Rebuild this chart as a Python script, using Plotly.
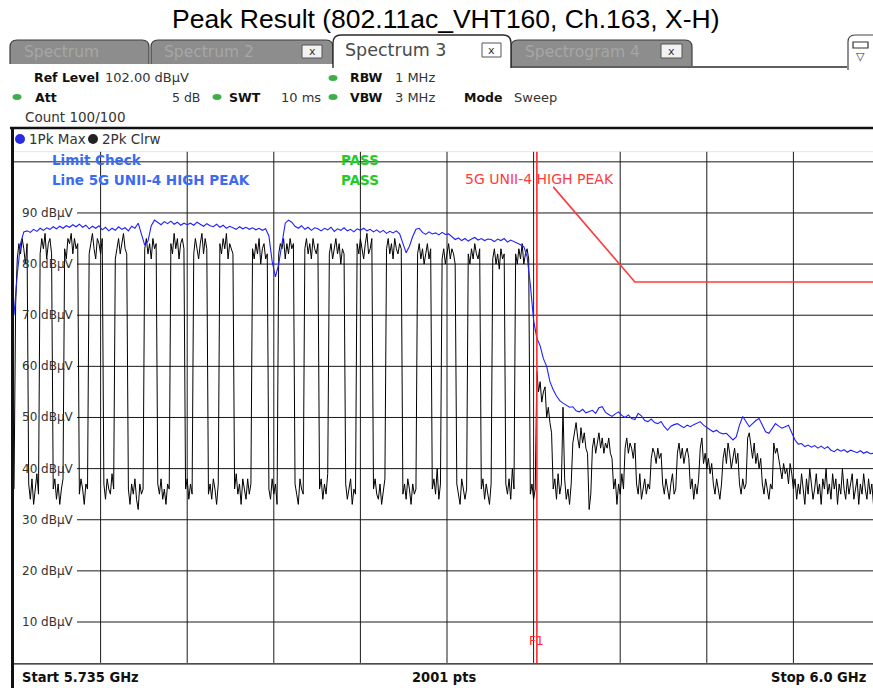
import numpy as np
import plotly.graph_objects as go

W, H = 873, 688

# ---- sweep settings -------------------------------------------------------
F_START, F_STOP = 5.735, 6.0
REF_LEVEL = 102.0
DB_PER_DIV = 10
N_DIV = 10

# Trace 2: Pk Clear/Write, 0.5 MHz spacing (dBuV)
clrw_db = [
    36, 72,
    81, 84, 82, 85, 83, 80, 84,
    37, 34, 38, 33, 36, 39, 35,
    82, 85, 83, 86, 81, 84, 85, 82,
    36, 38, 34, 37, 33, 36, 38,
    83, 81, 85, 84, 86, 82, 85, 83, 84,
    35, 38, 36, 33, 37, 36,
    82, 84, 86, 83, 81, 85, 84, 82, 85,
    37, 34, 38, 36, 35, 39, 36,
    81, 83, 85, 82, 84, 86, 83, 82,
    36, 33, 37, 35, 38, 34, 32, 37, 35, 36,
    83, 85, 82, 84, 81, 85, 83, 84,
    37, 35, 38, 34, 36, 33, 37, 36,
    84, 82, 86, 83, 85, 81, 84, 85, 83,
    36, 38, 34, 37, 35,
    82, 85, 83, 81, 84, 86, 82, 85, 83,
    35, 37, 34, 38, 36, 33, 37,
    84, 82, 85, 83, 86, 81, 84, 83, 82,
    36, 39, 35, 37, 33, 38, 36, 34, 38, 35, 37,
    83, 81, 84, 82, 85, 80, 83, 84, 81, 82,
    36, 34, 38, 35, 37, 33,
    82, 84, 83, 85, 81, 84, 82, 85, 83, 84,
    37, 35, 33, 38, 36, 35,
    83, 85, 82, 84, 81, 85, 83, 82, 84,
    36, 38, 34, 37, 35, 39,
    82, 84, 81, 83, 85, 82, 84, 80, 83, 82,
    37, 34, 36, 38, 33, 36, 35,
    84, 82, 85, 83, 81, 84, 86, 82, 83, 85,
    36, 38, 35, 34, 37, 33, 36, 38,
    83, 85, 82, 84, 81, 85, 83, 82, 84, 83,
    35, 37, 34, 38, 36, 33, 37, 35, 36,
    82, 84, 81, 83, 80, 82, 84, 81, 83,
    36, 38, 35, 40, 34, 37,
    81, 83, 80, 82, 84, 81, 83, 82, 80,
    37, 35, 33, 38, 36, 34, 36,
    82, 80, 83, 81, 84, 82, 81, 83,
    36, 38, 34, 37, 35, 33, 37,
    81, 83, 80, 82, 79, 83, 81, 82,
    37, 35, 38, 34, 40, 36,
    82, 80, 83, 81, 84, 80, 82, 83, 81,
    35, 37, 34, 36,
    59, 55, 57, 53, 55, 56, 50, 52, 49, 47,
    36, 38, 34, 39, 35, 37, 52, 38, 34, 36, 33, 37,
    45, 47, 49, 46, 44, 48, 45, 47, 44, 43,
    32, 35,
    44, 46, 43, 45, 47, 44, 46, 43, 45, 44, 46, 43, 42,
    36, 38, 33, 37, 35, 39, 36,
    44, 46, 43, 45, 44, 42, 45,
    37, 35, 39, 34, 36, 38, 35, 37, 36,
    42, 44, 43, 41, 44, 42, 43,
    37, 35, 38, 36, 34, 37, 39, 35, 36,
    43, 45, 42, 44, 41, 43, 44, 42,
    36, 38, 34, 37, 35, 38,
    44, 46, 41, 43, 40, 42, 39, 41,
    37, 35, 38, 36, 34, 37,
    42, 44, 41, 45, 43, 40, 42, 44, 41, 43,
    37, 35, 38, 36, 37,
    46, 47, 44, 42, 45, 41, 43, 40, 42,
    37, 35, 38, 36, 34, 37, 36,
    45, 43, 44, 42,
    40, 38, 41, 39, 40, 37, 41, 39,
    36, 38, 34, 37, 35, 39, 36, 33, 38, 35, 40, 37, 34, 36, 39, 35, 37, 33,
    38, 36, 40, 35, 37, 34, 39, 36, 38, 33, 37, 35, 40, 36, 34, 38, 35, 37,
    39, 34, 36, 38, 33, 37, 35, 39, 36, 34, 38, 35, 37, 33, 36, 39, 35, 37,
]

# Trace 1: Pk Max hold, 1 MHz spacing (dBuV)
maxhold_db = [
    70, 78, 84, 86.3,
    86.5, 86.2, 86.8, 86.4, 87.0, 86.6, 87.1, 86.8, 87.3, 86.9, 87.4, 87.0, 87.5, 87.2, 87.7, 87.3,
    87.8, 87.2, 87.6, 86.9, 87.4, 87.0, 87.5, 86.7, 87.2, 86.5, 87.0, 86.6, 87.3, 86.8, 87.1, 86.5, 87.4, 87.0,
    88.0, 86.0, 83.7, 84.5, 87.5, 88.6,
    88.1, 87.7, 88.3, 87.9, 88.4, 87.8, 88.2, 87.6, 88.0, 87.7,
    88.0, 87.6, 88.2, 87.8, 87.4, 87.9, 87.5, 87.3, 87.8, 87.2, 87.6, 87.0,
    87.4, 87.1, 86.8, 87.3, 86.9, 87.2, 86.8, 87.1, 86.7, 87.0, 86.6, 86.9,
    85.5, 80.5, 77.5, 80.0, 84.5, 88.0, 88.6, 88.2,
    87.4, 87.0, 87.5, 86.8, 87.2, 86.6, 87.1, 86.9, 86.5, 87.0, 86.7,
    87.2, 86.4, 86.9, 86.6, 87.1, 86.5, 86.8, 86.3, 86.9, 86.6,
    87.0, 86.5, 86.8, 86.3, 86.7, 86.2, 86.6, 86.0, 86.4, 86.1, 86.5, 85.9,
    84.0, 82.2, 83.5, 85.4, 86.8, 87.0,
    86.2, 85.8, 86.3, 85.9, 86.1, 85.7, 86.2, 85.8,
    85.9,
    85.3, 84.8, 85.1, 84.6, 85.0, 84.5, 84.9, 85.2, 84.7, 85.0, 84.6, 84.9,
    84.8, 84.4, 84.9, 84.6, 85.0, 84.3, 84.7, 84.4, 84.2,
    83.8, 83.4, 81.5,
    76.0, 69.0, 65.5, 64.0, 61.5, 60.0, 57.0, 55.4, 54.2, 53.3,
    52.8, 52.4, 52.0, 52.1, 51.3, 51.1, 51.6, 50.9, 51.1, 51.4,
    50.8, 51.9, 52.1, 51.0, 50.6, 50.2, 50.7, 51.1, 50.4, 50.0,
    50.5, 49.8, 49.6, 50.8, 50.3, 49.4, 49.2, 49.7, 49.0, 48.8,
    49.2, 48.2, 47.5, 48.3, 48.6, 48.8, 48.4, 48.0, 48.5, 48.2,
    48.6, 48.9, 49.2, 48.5, 48.0, 47.6, 47.2, 47.5, 47.0, 46.8,
    46.9, 46.3, 45.6, 46.2, 48.5, 50.2, 49.3, 48.2, 48.8, 49.4,
    49.8, 48.5, 47.2, 46.9, 47.8, 48.8, 48.3, 47.9, 48.2, 48.5,
    47.0, 45.6, 44.8, 44.9, 44.3, 44.6, 44.2, 44.5, 44.0, 44.4,
    43.9, 44.3, 43.6, 43.3, 43.8, 43.4, 43.7, 43.2, 43.6, 43.4,
    43.1, 43.5, 43.0, 43.3, 42.9, 43.0, 43.2, 43.0,
]

# Limit line "5G UNII-4 HIGH PEAK"
limit_freq = [5.900, 5.925, 6.000]
limit_db = [95.1, 76.5, 76.5]

# Frequency line F1
f1_freq = 5.895

level_labels = [90, 80, 70, 60, 50, 40, 30, 20, 10]

# ---- pixel geometry of the screen ----------------------------------------
GRID_L, GRID_DIV_PX = 14.0, 86.6
GRID_TOP, GRID_BOT = 151.6, 662.9
X_VIS_END = F_START + (W - GRID_L) / (GRID_DIV_PX * N_DIV) * (F_STOP - F_START)
Y_BOTTOM = REF_LEVEL - DB_PER_DIV * N_DIV

UI_FONT = "DejaVu Sans"


def px(x):
    return x / W


def py(y):
    return 1 - y / H


def rect(x0, y0, x1, y1, fill, line=None, lw=0):
    return dict(type="rect", xref="paper", yref="paper",
                x0=px(x0), x1=px(x1), y0=py(y1), y1=py(y0),
                fillcolor=fill, line=dict(color=line or fill, width=lw),
                layer="above")


def tab(x0, y0, x1, y1, r, fill, line, lw=1.2):
    p = (f"M {px(x0)},{py(y1)} L {px(x0)},{py(y0 + r)} "
         f"Q {px(x0)},{py(y0)} {px(x0 + r)},{py(y0)} "
         f"L {px(x1 - r)},{py(y0)} Q {px(x1)},{py(y0)} {px(x1)},{py(y0 + r)} "
         f"L {px(x1)},{py(y1)}")
    return dict(type="path", xref="paper", yref="paper", path=p,
                fillcolor=fill, line=dict(color=line, width=lw), layer="above")


def hline(x0, x1, y, color, w=1):
    return dict(type="line", xref="paper", yref="paper",
                x0=px(x0), x1=px(x1), y0=py(y), y1=py(y),
                line=dict(color=color, width=w), layer="above")


def vline(x, y0, y1, color, w=1):
    return dict(type="line", xref="paper", yref="paper",
                x0=px(x), x1=px(x), y0=py(y0), y1=py(y1),
                line=dict(color=color, width=w), layer="above")


def dot(x, y, rx, ry, color):
    return dict(type="circle", xref="paper", yref="paper",
                x0=px(x - rx), x1=px(x + rx), y0=py(y + ry), y1=py(y - ry),
                fillcolor=color, line=dict(color=color, width=0), layer="above")


def text(x, y, s, size=13, color="#222", bold=False, anchor="left",
         family=UI_FONT):
    return dict(x=px(x), y=py(y), xref="paper", yref="paper", text=s,
                showarrow=False, xanchor=anchor, yanchor="middle",
                font=dict(family=family, size=size, color=color,
                          weight="bold" if bold else "normal"))


fig = go.Figure()

clrw_f = np.linspace(F_START, F_STOP, len(clrw_db))
maxhold_f = np.linspace(F_START, F_STOP, len(maxhold_db))

fig.add_trace(go.Scatter(x=limit_freq, y=limit_db, mode="lines",
                         line=dict(color="#ff3b3b", width=1.6),
                         hoverinfo="skip", showlegend=False))
fig.add_trace(go.Scatter(x=clrw_f, y=clrw_db, mode="lines",
                         line=dict(color="#000000", width=1),
                         name="2Pk Clrw", showlegend=False))
fig.add_trace(go.Scatter(x=maxhold_f, y=maxhold_db, mode="lines",
                         line=dict(color="#1f1fff", width=1.1),
                         name="1Pk Max", showlegend=False))

shapes = []
annotations = []

# grid: vertical divisions
div_w = (F_STOP - F_START) / N_DIV
for k in range(1, N_DIV):
    shapes.append(dict(type="line", xref="x", yref="y",
                       x0=F_START + k * div_w, x1=F_START + k * div_w,
                       y0=Y_BOTTOM, y1=REF_LEVEL,
                       line=dict(color="#1a1a1a", width=1), layer="below"))
# grid: horizontal levels, labelled ones start after their label
for lev in [100] + level_labels:
    x0 = px(GRID_L) if lev == 100 else px(77)
    shapes.append(dict(type="line", xref="paper", yref="y",
                       x0=x0, x1=1, y0=lev, y1=lev,
                       line=dict(color="#1a1a1a", width=1), layer="below"))
shapes.append(dict(type="line", xref="paper", yref="y", x0=px(GRID_L), x1=1,
                   y0=REF_LEVEL, y1=REF_LEVEL,
                   line=dict(color="#d0d0d0", width=1), layer="below"))
for lev in level_labels:
    annotations.append(dict(x=px(20), y=lev, xref="paper", yref="y",
                            text=f"{lev} dBµV", showarrow=False,
                            xanchor="left", yanchor="middle",
                            font=dict(family=UI_FONT, size=12, color="#333")))

# F1 frequency line
shapes.append(dict(type="line", xref="x", yref="y", x0=f1_freq, x1=f1_freq,
                   y0=Y_BOTTOM, y1=REF_LEVEL,
                   line=dict(color="#ff2a2a", width=1.6), layer="above"))
annotations.append(dict(x=f1_freq, y=py(641), xref="x", yref="paper",
                        text="F1", showarrow=False, xanchor="center",
                        yanchor="middle",
                        font=dict(family=UI_FONT, size=12, color="#ff2a2a")))

# ---- analyzer window chrome ----------------------------------------------
# tab strip
shapes += [
    tab(10, 40, 149, 64, 7, "#8d8d8d", "#3e3e3e"),
    tab(151, 40, 333, 64, 7, "#8d8d8d", "#3e3e3e"),
    tab(511, 40, 692, 66, 7, "#8d8d8d", "#3e3e3e"),
    hline(333, 847, 67, "#2a2a2a", 1.5),
    tab(333, 35, 511, 68, 8, "#ffffff", "#2a2a2a", 1.4),
    rect(302, 45, 322, 58, "#f2f2f2", "#555", 1),
    rect(482, 43, 501, 57, "#ffffff", "#555", 1),
    rect(661, 44, 682, 58, "#f2f2f2", "#555", 1),
    tab(848, 35, 880, 70, 7, "#ffffff", "#444", 1.2),
    rect(853, 42, 868, 48, "#ffffff", "#333", 1.2),
]
annotations += [
    text(22, 52, "Spectrum", 15.5, "#a6a6a6"),
    text(162, 52, "Spectrum 2", 15.5, "#a6a6a6"),
    text(523, 52, "Spectrogram 4", 15.5, "#a6a6a6"),
    text(312, 51, "x", 11, "#333", anchor="center"),
    text(491.5, 50, "x", 11, "#333", anchor="center"),
    text(671.5, 51, "x", 11, "#333", anchor="center"),
    text(343, 50, "Spectrum 3", 17.5, "#4a4a4a"),
    text(860.5, 56, "▽", 11, "#333", anchor="center"),
]

# settings panel
green = "#3fae49"
REG = 13
BLD = 12.5
shapes += [dot(17, 97, 4.5, 3, green), dot(217, 97, 4.5, 3, green),
           dot(333, 78, 4.5, 3, green), dot(333, 97, 4.5, 3, green)]
annotations += [
    text(32, 78, "Ref Level", BLD, "#111", True),
    text(103, 78, "102.00 dBµV", REG, "#333"),
    text(348, 78, "RBW", BLD, "#111", True),
    text(393, 78, "1 MHz", REG, "#333"),
    text(33, 97, "Att", BLD, "#111", True),
    text(170, 97, "5 dB", 12.5, "#333"),
    text(227, 97, "SWT", BLD, "#111", True),
    text(279, 97, "10 ms", REG, "#333"),
    text(348, 97, "VBW", BLD, "#111", True),
    text(393, 97, "3 MHz", REG, "#333"),
    text(462, 97, "Mode", BLD, "#111", True),
    text(512, 97, "Sweep", REG, "#333"),
    text(23, 117, "Count 100/100", 13.5, "#333"),
]

# diagram frame
shapes += [
    hline(10, W, 128, "#111", 2.5),
    vline(12.5, 128, H, "#111", 3),
    hline(GRID_L, W, GRID_BOT + 1, "#111", 1.2),
    dot(20, 139, 5, 5, "#2a2ae0"),
    dot(93, 139, 5, 5, "#222"),
]
annotations += [
    text(27, 139, "1Pk Max", 13.5, "#333"),
    text(100, 139, "2Pk Clrw", 13.5, "#333"),
    text(50, 160, "Limit Check", 13.5, "#3a6cf0", True),
    text(50, 180, "Line 5G UNII-4 HIGH PEAK", 13.5, "#3a6cf0", True),
    text(339, 160, "PASS", 13.5, "#22cc22", True),
    text(339, 180, "PASS", 13.5, "#22cc22", True),
    text(463, 179, "5G UNII-4 HIGH PEAK", 14, "#ff3b3b"),
    text(20, 677, "Start 5.735 GHz", 14.5, "#111", True, family="DejaVu Sans Condensed"),
    text(444, 677, "2001 pts", 14.5, "#111", True, "center", family="DejaVu Sans Condensed"),
    text(868, 677, "Stop 6.0 GHz", 14.5, "#111", True, "right", family="DejaVu Sans Condensed"),
]

# title
annotations.append(dict(x=px(446), y=py(19), xref="paper", yref="paper",
                        text="Peak Result (802.11ac_VHT160, Ch.163, X-H)",
                        showarrow=False, xanchor="center", yanchor="middle",
                        font=dict(family="Liberation Sans", size=26.5,
                                  color="#000")))

fig.update_layout(
    width=W, height=H,
    margin=dict(l=0, r=0, t=0, b=0),
    paper_bgcolor="white", plot_bgcolor="white",
    showlegend=False,
    xaxis=dict(domain=[px(GRID_L), 1.0], range=[F_START, X_VIS_END],
               showgrid=False, zeroline=False, showticklabels=False,
               ticks="", showline=False, fixedrange=True),
    yaxis=dict(domain=[py(GRID_BOT), py(GRID_TOP)], range=[Y_BOTTOM, REF_LEVEL],
               showgrid=False, zeroline=False, showticklabels=False,
               ticks="", showline=False, fixedrange=True),
    shapes=shapes,
    annotations=annotations,
)

fig.write_html("out.html")
